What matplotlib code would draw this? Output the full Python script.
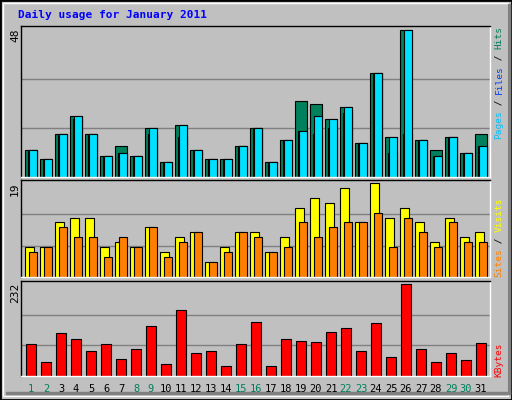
import numpy as np
import matplotlib
matplotlib.use("Agg")
import matplotlib.pyplot as plt
from matplotlib.patches import Rectangle

days = np.arange(1, 32)
hits = [9, 6, 14, 20, 14, 7, 10, 7, 16, 5, 17, 9, 6, 6, 10, 16, 5, 12, 25, 24, 19, 23, 11, 34, 13, 48, 12, 9, 13, 8, 14]
files = [9, 6, 14, 19, 14, 7, 8, 7, 14, 5, 13, 9, 6, 6, 10, 16, 5, 12, 15, 14, 16, 21, 11, 34, 8, 14, 12, 7, 13, 8, 10]
pages = [9, 6, 14, 20, 14, 7, 8, 7, 16, 5, 17, 9, 6, 6, 10, 16, 5, 12, 15, 20, 19, 23, 11, 34, 13, 48, 12, 7, 13, 8, 10]
visits = [6, 6, 11, 12, 12, 6, 7, 6, 10, 5, 8, 9, 3, 6, 9, 9, 5, 8, 14, 16, 15, 18, 11, 19, 12, 14, 11, 7, 12, 8, 9]
sites = [5, 6, 10, 8, 8, 4, 8, 6, 10, 4, 7, 9, 3, 5, 9, 8, 5, 6, 11, 8, 10, 11, 11, 13, 6, 12, 9, 6, 11, 7, 7]
kbytes = [80, 34, 107, 92, 62, 80, 44, 67, 125, 29, 166, 57, 62, 24, 80, 136, 24, 92, 87, 85, 110, 120, 64, 133, 49, 232, 69, 36, 59, 39, 82]
weekend = [1, 2, 8, 9, 15, 16, 22, 23, 29, 30]

W, H = 512, 400
BG = "#c0c0c0"
MONO = "DejaVu Sans Mono"

fig = plt.figure(figsize=(5.12, 4.0), dpi=100, facecolor=BG)


def fx(x):
    return x / W


def fy(y):
    return 1 - y / H


# outer frame
fig.patches.append(Rectangle((0, 0), 1, 1, transform=fig.transFigure, fill=False,
                             edgecolor="black", linewidth=2))
fig.patches.append(Rectangle((fx(3), fy(396)), fx(505), 393 / H,
                             transform=fig.transFigure, fill=False, edgecolor="white", linewidth=1))
fig.patches.append(Rectangle((fx(6), fy(394)), fx(504), 2 / H, transform=fig.transFigure,
                             color="#808080"))
fig.patches.append(Rectangle((fx(508), fy(394)), 2 / W, 390 / H, transform=fig.transFigure,
                             color="#808080"))

fig.text(fx(18), fy(15), "Daily usage for January 2011", color="#0000ff",
         fontfamily=MONO, fontweight="bold", fontsize=8, va="center")

x0, x1 = 21, 490
xlim = (1 - 10 / 15, 31 + 9 / 15)


def make_ax(top, bottom, ymax):
    ax = fig.add_axes([fx(x0), fy(bottom), (x1 - x0) / W, (bottom - top) / H])
    ax.set_facecolor(BG)
    ax.set_xlim(*xlim)
    ax.set_ylim(0, ymax * 1.03)
    for v in (ymax / 3, 2 * ymax / 3):
        ax.axhline(v, color="#808080", linewidth=1, zorder=0)
    ax.set_xticks([])
    ax.set_yticks([])
    for s in ax.spines.values():
        s.set_color("black")
        s.set_linewidth(1)
    ax.spines["right"].set_color("white")
    ax.spines["bottom"].set_color("white")
    fig.text(fx(15), fy(top + 2), str(ymax), rotation=90, fontfamily=MONO,
             fontsize=8, ha="center", va="top")
    return ax


def side_label(parts, ybottom):
    y = ybottom
    step = 5.6
    for txt, col in parts:
        fig.text(fx(499), fy(y), txt, rotation=90, color=col, fontfamily=MONO,
                 fontsize=6.8, ha="center", va="bottom")
        y -= step * len(txt)


ekw = dict(edgecolor="black", linewidth=0.8)

ax1 = make_ax(26, 177, 48)
ax1.bar(days - 0.38, hits, width=0.76, align="edge", color="#00805c", **ekw)
ax1.bar(days - 0.22, files, width=0.6, align="edge", color="#0000ff", **ekw)
ax1.bar(days - 0.15, pages, width=0.52, align="edge", color="#00e0ff", **ekw)
side_label([("Pages", "#00c0ff"), (" / ", "#000000"), ("Files", "#0040ff"),
            (" / ", "#000000"), ("Hits", "#00805c")], 139)

ax2 = make_ax(180, 277, 19)
ax2.bar(days - 0.38, visits, width=0.56, align="edge", color="#ffff00", **ekw)
ax2.bar(days - 0.12, sites, width=0.5, align="edge", color="#ff8000", **ekw)
side_label([("Sites", "#ff8000"), (" / ", "#000000"), ("Visits", "#ffff00")], 277)

ax3 = make_ax(281, 376, 232)
ax3.bar(days - 0.31, kbytes, width=0.66, align="edge", color="#ff0000", **ekw)
side_label([("KBytes", "#ff0000")], 377)

for d in days:
    xp = x0 + (d - xlim[0]) / (xlim[1] - xlim[0]) * (x1 - x0)
    fig.text(fx(xp), fy(389), str(d), color="#00805c" if d in weekend else "black",
             fontfamily=MONO, fontsize=7.5, ha="center", va="center")

fig.savefig("out.png", dpi=100, facecolor=BG)
